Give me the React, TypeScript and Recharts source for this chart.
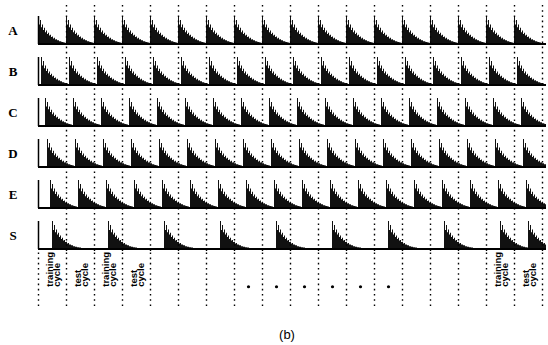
import React from 'react';
import { BarChart, Bar, XAxis, YAxis, ReferenceLine, ReferenceDot } from 'recharts';

// rows of the raster, delay (in bins) of the first spike inside each cycle
const rowNames = ['A', 'B', 'C', 'D', 'E', 'S'];
const rowDelays = [0, 3, 7, 9, 12, 14];

const cycleCount = 18;
const cycleBins = 28;
const binCount = 508;

const allCycles = [0, 1, 2, 3, 4, 5, 6, 7, 8, 9, 10, 11, 12, 13, 14, 15, 16, 17];
const sCycles = [0, 2, 4, 6, 8, 10, 12, 14, 16, 17];

const decay = [
    1.0, 0.7, 0.86, 0.6, 0.7, 0.5, 0.58, 0.42, 0.48, 0.36, 0.4, 0.3, 0.33, 0.25,
    0.27, 0.2, 0.22, 0.16, 0.17, 0.13, 0.13, 0.1, 0.1, 0.08, 0.07, 0.06, 0.05, 0.04,
];
const sDecay = [
    1.0, 0.68, 0.86, 0.6, 0.7, 0.52, 0.58, 0.43, 0.48, 0.36, 0.4, 0.3, 0.32, 0.25,
    0.26, 0.2, 0.21, 0.16, 0.16, 0.13, 0.13, 0.1, 0.1, 0.08, 0.08, 0.065, 0.06, 0.05,
    0.05, 0.04, 0.04, 0.035, 0.03, 0.025, 0.025, 0.02, 0.02, 0.015, 0.015, 0.01, 0.01, 0.01,
];

const cycleLabels = [
    { cycle: 0, lines: ['training', 'cycle'] },
    { cycle: 1, lines: ['test', 'cycle'] },
    { cycle: 2, lines: ['training', 'cycle'] },
    { cycle: 3, lines: ['test', 'cycle'] },
    { cycle: 16, lines: ['training', 'cycle'] },
    { cycle: 17, lines: ['test', 'cycle'] },
];
const dotCycles = [7, 8, 9, 10, 11, 12];

const baselines = [44, 85, 126, 167, 208, 249];
const plotH = 36;
const spikeH = 28;
const W = 548;
const margin = { top: 0, right: 2, bottom: 0, left: 38 };
const dotted = { stroke: '#000', strokeWidth: 1.4, strokeDasharray: '1.6 3.6' };

function buildRow(delay: number, cycles: number[], profile: number[]) {
    const vals = new Array(binCount).fill(0);
    cycles.forEach((c) => {
        const start = c * cycleBins + delay;
        profile.forEach((p, j) => {
            const k = start + j;
            if (k < binCount) vals[k] = Math.max(vals[k], p);
        });
    });
    return vals.map((v, i) => ({ i, v }));
}

const emptyData = new Array(binCount).fill(0).map((_, i) => ({ i, z: 0 }));

function RowChart({ index }: { index: number }) {
    const isS = rowNames[index] === 'S';
    const data = buildRow(rowDelays[index], isS ? sCycles : allCycles, isS ? sDecay : decay);
    return (
        <div style={{ position: 'absolute', left: 0, top: baselines[index] - plotH }}>
            <BarChart width={W} height={plotH + 2} data={data} margin={{ ...margin, bottom: 2 }} barCategoryGap={0} barGap={0}>
                <XAxis dataKey="i" hide />
                <YAxis hide domain={[0, plotH / spikeH]} allowDataOverflow />
                <Bar dataKey="v" fill="#111" isAnimationActive={false} />
                <ReferenceLine y={0} stroke="#000" strokeWidth={2} />
                <ReferenceLine segment={[{ x: 0, y: 0 }, { x: 0, y: 1 }]} stroke="#000" strokeWidth={1.5} />
            </BarChart>
        </div>
    );
}

const CycleText = ({ cx, cy, lines }: { cx: number; cy: number; lines: string[] }) => (
    <g>
        {lines.map((t, j) => (
            <text
                key={j}
                transform={`translate(${cx - 3 + j * 7},${cy}) rotate(-90)`}
                textAnchor="start"
                dominantBaseline="central"
                fontFamily="'Liberation Sans Narrow', 'Liberation Sans', Arial, sans-serif"
                fontWeight="bold"
                fontSize={9.5}
                fill="#000"
            >
                {t}
            </text>
        ))}
    </g>
);

export default function App() {
    return (
        <div style={{ position: 'absolute', left: 0, top: 0, width: W, height: 345, background: '#fff' }}>
            {rowNames.map((name, r) => (
                <div
                    key={name}
                    style={{
                        position: 'absolute', left: 7, top: baselines[r] - 20, width: 12, textAlign: 'center',
                        fontFamily: "'Liberation Serif', serif", fontWeight: 'bold', fontSize: 13, lineHeight: '13px',
                    }}
                >
                    {name}
                </div>
            ))}
            {rowNames.map((name, r) => (
                <RowChart key={name} index={r} />
            ))}

            {/* dotted cycle borders through the rows */}
            <div style={{ position: 'absolute', left: 0, top: 3, pointerEvents: 'none' }}>
                <BarChart width={W} height={248} data={emptyData} margin={margin}>
                    <XAxis dataKey="i" hide />
                    <YAxis hide domain={[0, 1]} />
                    <Bar dataKey="z" fill="none" isAnimationActive={false} />
                    {allCycles.map((c) => (
                        <ReferenceLine key={c} x={(c + 1) * cycleBins} {...dotted} />
                    ))}
                </BarChart>
            </div>

            {/* label strip under the S row */}
            <div style={{ position: 'absolute', left: 0, top: 251 }}>
                <BarChart width={W} height={55} data={emptyData} margin={margin}>
                    <XAxis dataKey="i" hide />
                    <YAxis hide domain={[0, 1]} />
                    <Bar dataKey="z" fill="none" isAnimationActive={false} />
                    {[0, ...allCycles].map((c, k) => (
                        <ReferenceLine key={k} x={(k === 0 ? 0 : c + 1) * cycleBins} {...dotted} />
                    ))}
                    {dotCycles.map((c) => (
                        <ReferenceDot key={'d' + c} x={c * cycleBins + cycleBins / 2} y={0.35} r={1.6} fill="#000" stroke="none" />
                    ))}
                    {cycleLabels.map((l) => (
                        <ReferenceDot
                            key={'t' + l.cycle}
                            x={l.cycle * cycleBins + cycleBins / 2}
                            y={0.35}
                            r={1}
                            shape={(p: any) => <CycleText cx={p.cx} cy={p.cy} lines={l.lines} />}
                        />
                    ))}
                </BarChart>
            </div>

            <div
                style={{
                    position: 'absolute', left: 262, top: 327, width: 50, textAlign: 'center',
                    fontFamily: "'Liberation Sans', Arial, sans-serif", fontSize: 13, lineHeight: '15px',
                }}
            >
                (b)
            </div>
        </div>
    );
}
